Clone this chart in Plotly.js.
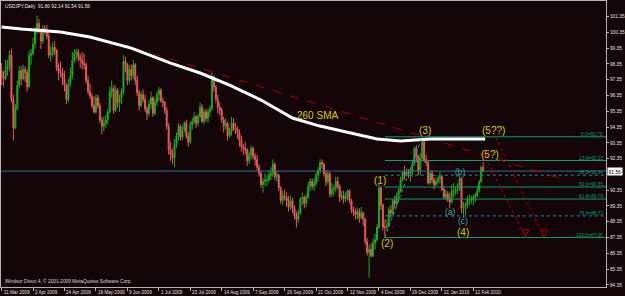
<!DOCTYPE html>
<html>
<head>
<meta charset="utf-8">
<script src="https://cdn.plot.ly/plotly-3.0.1.min.js"></script>
<style>html,body{margin:0;padding:0;background:#140508;}#chart{width:625px;height:296px;}</style>
</head>
<body>
<div id="chart"></div>
<script>
// ---- Data ----
const symbolTitle = "USDJPY,Daily  91.80 92.14 91.54 91.56";
const tickLabels = ["11 Mar 2009","2 Apr 2009","24 Apr 2009","18 May 2009","9 Jun 2009","1 Jul 2009","23 Jul 2009","14 Aug 2009","7 Sep 2009","29 Sep 2009","21 Oct 2009","12 Nov 2009","4 Dec 2009","29 Dec 2009","21 Jan 2010","12 Feb 2010"];
const priceTicks = [84.35,85.35,86.35,87.35,88.35,89.35,90.35,91.35,92.35,93.35,94.35,95.35,96.35,97.35,98.35,99.35,100.35,101.35];

const open = [
97.9,97.5,97.4,98.0,98.2,98.9,96.1,94.3,95.5,97.0,
97.9,97.4,98.0,97.8,96.9,98.9,99.0,99.6,100.4,100.9,
100.5,99.8,100.6,100.4,100.1,98.9,99.0,99.4,99.2,98.1,
97.8,97.8,97.4,97.0,96.1,97.1,97.6,98.6,99.0,99.1,
98.8,98.6,98.4,98.3,97.3,96.6,96.3,95.7,95.3,96.2,
95.7,94.8,94.4,94.6,94.8,95.3,96.6,96.8,95.4,96.7,
95.9,96.2,96.6,98.5,98.3,97.3,98.0,97.6,98.3,97.3,
96.5,95.7,96.4,96.1,95.5,95.2,95.8,96.2,95.2,95.9,
96.4,96.7,96.0,95.9,95.4,94.4,92.9,92.6,92.4,93.3,
93.8,94.4,93.7,94.2,94.6,93.8,93.4,94.5,94.7,95.0,
94.6,95.0,95.6,94.7,95.3,94.9,95.3,95.5,97.5,96.9,
96.1,95.6,95.4,94.8,94.4,94.6,93.8,94.1,94.6,94.3,
94.2,94.0,93.5,93.1,93.0,92.9,92.2,92.6,93.0,92.5,
92.3,91.8,91.4,90.7,90.9,91.0,91.0,91.3,91.4,92.0,
91.2,91.3,90.5,89.7,90.0,89.9,89.7,89.3,89.7,89.2,
88.7,88.5,88.9,89.8,89.9,89.5,89.9,90.6,90.9,90.6,
90.8,91.3,91.6,92.1,92.0,91.4,90.9,91.4,90.1,90.4,
90.5,90.9,90.6,89.9,90.0,89.8,89.9,90.3,89.7,89.1,
89.0,88.8,89.0,88.6,88.9,88.5,87.1,86.4,86.6,86.2,
87.0,87.2,88.0,90.5,89.4,88.0,88.0,88.1,89.1,88.9,
89.7,89.5,90.0,90.3,91.0,91.5,91.3,91.5,91.4,91.5,
92.0,93.0,92.5,91.6,92.4,93.4,92.3,92.1,90.8,91.4,
91.0,90.7,90.9,91.1,91.2,90.4,89.9,90.1,89.8,89.6,
90.3,90.3,90.4,90.4,91.1,89.2,89.3,89.4,89.8,89.8,
89.8,89.9,90.0,90.3,90.9,91.8];
const high = [
98.4,97.9,98.6,98.6,99.2,99.3,96.4,95.8,97.3,98.2,
98.2,98.3,98.2,98.0,99.2,99.3,100.0,100.7,101.4,101.2,
100.6,100.8,100.8,100.8,100.3,99.5,99.7,99.8,99.3,98.4,
98.5,98.1,97.9,97.1,97.4,98.1,99.1,99.3,99.3,99.3,
99.0,99.1,99.0,98.4,97.6,97.1,96.5,96.3,96.4,96.4,
95.9,95.0,95.0,95.1,95.5,96.9,97.3,97.0,97.0,96.8,
96.4,96.8,98.9,98.8,98.4,98.3,98.3,98.6,98.4,97.6,
96.7,96.6,96.7,96.4,95.7,96.1,96.6,96.3,96.2,96.6,
96.9,96.8,96.2,96.0,95.6,94.6,93.4,93.0,93.6,94.0,
94.6,94.5,94.4,94.7,94.8,94.0,94.7,94.9,95.3,95.1,
95.2,95.9,95.8,95.5,95.5,95.5,95.7,97.8,97.6,97.0,
96.4,95.9,95.6,95.0,94.9,94.7,94.3,95.0,94.9,94.6,
94.4,94.2,93.8,93.3,93.4,93.0,92.8,93.2,93.1,92.7,
92.6,92.0,91.6,91.1,91.4,91.3,91.6,91.8,92.3,92.1,
91.6,91.4,90.6,90.3,90.4,90.2,90.0,90.0,89.9,89.4,
89.0,89.1,89.9,90.2,90.0,90.1,90.9,91.1,91.1,91.1,
91.5,91.8,92.3,92.3,92.1,91.6,91.6,91.5,90.8,90.7,
91.2,91.2,90.7,90.3,90.3,90.2,90.4,90.4,89.8,89.3,
89.2,89.2,89.2,89.3,89.0,88.6,87.3,86.9,87.0,87.3,
87.6,88.2,90.8,90.6,89.5,88.5,88.5,89.3,89.4,89.8,
90.0,90.2,90.5,91.2,91.6,91.9,91.7,91.7,91.7,92.2,
93.1,93.2,92.6,92.7,93.73,93.5,92.6,92.2,91.6,91.6,
91.2,91.1,91.3,91.5,91.3,90.6,90.4,90.3,90.2,90.7,
90.8,90.6,90.8,91.3,91.2,89.6,89.6,90.0,90.1,90.0,
90.1,90.2,90.6,91.0,91.9,92.14];
const low = [
97.0,96.9,97.3,97.6,97.9,95.9,93.5,94.2,95.4,96.8,
97.0,97.3,97.2,96.6,96.8,98.3,98.9,99.3,100.2,100.3,
99.3,99.6,100.2,99.9,98.7,98.5,98.8,98.9,97.9,97.3,
97.5,97.0,96.6,95.8,95.9,96.9,97.4,98.4,98.6,98.5,
98.1,98.0,98.0,97.1,96.4,96.1,95.5,95.2,95.2,95.5,
94.6,93.9,94.1,94.3,94.5,95.2,96.2,95.2,95.3,95.6,
95.3,95.8,96.4,97.8,97.0,97.1,97.3,97.4,97.0,96.3,
95.4,95.6,95.9,95.3,94.8,95.0,95.5,95.0,95.1,95.7,
96.0,95.9,95.6,95.2,94.2,92.6,92.2,92.0,91.8,93.0,
93.5,93.5,93.5,94.0,93.6,93.1,93.3,94.2,94.5,94.3,
94.4,94.9,94.6,94.5,94.7,94.6,95.0,95.4,96.6,95.9,
95.2,95.1,94.6,94.0,94.2,93.5,93.7,93.8,94.1,93.9,
93.6,93.1,92.8,92.6,92.6,91.9,92.0,92.3,92.3,91.9,
91.6,91.2,90.5,90.2,90.6,90.6,90.8,91.0,91.2,91.0,
90.9,90.3,89.5,89.4,89.7,89.3,89.0,89.1,88.9,88.5,
88.0,88.3,88.8,89.4,89.2,89.3,89.8,90.3,90.4,90.3,
90.6,90.9,91.4,91.7,91.2,90.6,90.7,89.9,89.9,90.0,
90.2,90.4,89.6,89.7,89.5,89.6,89.7,89.5,88.9,88.7,
88.5,88.5,88.3,88.5,88.1,86.9,86.2,84.8,86.1,86.1,
86.6,87.1,87.9,89.1,87.8,87.36,87.8,88.0,88.6,88.8,
89.2,89.3,89.6,90.2,90.9,91.0,91.2,91.1,90.9,91.2,
91.9,92.1,91.3,91.3,92.2,92.1,91.9,90.7,90.7,90.8,
90.4,90.6,90.7,90.8,90.3,89.8,89.7,89.6,89.2,89.5,
89.9,90.0,90.1,90.3,88.9,88.6,88.8,89.2,89.4,89.5,
89.4,89.6,89.9,90.2,90.8,91.54];
const close = [
97.5,97.4,98.0,98.2,98.9,96.1,94.3,95.5,97.0,97.9,
97.4,98.0,97.8,96.9,98.9,99.0,99.6,100.4,100.9,100.5,
99.8,100.6,100.4,100.1,98.9,99.0,99.4,99.2,98.1,97.8,
97.8,97.4,97.0,96.1,97.1,97.6,98.6,99.0,99.1,98.8,
98.6,98.4,98.3,97.3,96.6,96.3,95.7,95.3,96.2,95.7,
94.8,94.4,94.6,94.8,95.3,96.6,96.8,95.4,96.7,95.9,
96.2,96.6,98.5,98.3,97.3,98.0,97.6,98.3,97.3,96.5,
95.7,96.4,96.1,95.5,95.2,95.8,96.2,95.2,95.9,96.4,
96.7,96.0,95.9,95.4,94.4,92.9,92.6,92.4,93.3,93.8,
94.4,93.7,94.2,94.6,93.8,93.4,94.5,94.7,95.0,94.6,
95.0,95.6,94.7,95.3,94.9,95.3,95.5,97.5,96.9,96.1,
95.6,95.4,94.8,94.4,94.6,93.8,94.1,94.6,94.3,94.2,
94.0,93.5,93.1,93.0,92.9,92.2,92.6,93.0,92.5,92.3,
91.8,91.4,90.7,90.9,91.0,91.0,91.3,91.4,92.0,91.2,
91.3,90.5,89.7,90.0,89.9,89.7,89.3,89.7,89.2,88.7,
88.5,88.9,89.8,89.9,89.5,89.9,90.6,90.9,90.6,90.8,
91.3,91.6,92.1,92.0,91.4,90.9,91.4,90.1,90.4,90.5,
90.9,90.6,89.9,90.0,89.8,89.9,90.3,89.7,89.1,89.0,
88.8,89.0,88.6,88.9,88.5,87.1,86.4,86.6,86.2,87.0,
87.2,88.0,90.5,89.4,88.0,88.0,88.1,89.1,88.9,89.7,
89.5,90.0,90.3,91.0,91.5,91.3,91.5,91.4,91.5,92.0,
93.0,92.5,91.6,92.4,93.4,92.3,92.1,90.8,91.4,91.0,
90.7,90.9,91.1,91.2,90.4,89.9,90.1,89.8,89.6,90.3,
90.3,90.4,90.4,91.1,89.2,89.3,89.4,89.8,89.8,89.8,
89.9,90.0,90.3,90.9,91.8,91.56];

// 260-day SMA read at sample bars
const smaIdx = [0,10,30,45,66,86,101,116,132,148,162,176,191,203,218,233,246];
const smaVal = [100.68,100.55,100.36,100.05,99.35,98.40,97.77,97.00,96.06,94.92,94.41,94.03,93.59,93.46,93.59,93.59,93.59];

// Fibonacci retracement (3)->(2)
const fibPct = ["0.0","23.6","38.2","50.0","61.8","78.6","100.0"];
const fibVal = [93.73,92.23,91.30,90.55,89.79,88.72,87.35];
const fibStartIdx = 195;

const bidPrice = 91.56;
// Trend line and wave lines (bar index, price)
const trendIdx = [68, 285];
const trendVal = [99.34, 91.06];
const waveIdx = [195, 214];
const waveVal = [87.36, 93.73];
const projAIdx = [250, 276];
const projAVal = [94.03, 87.39];
const projBIdx = [246, 266.5];
const projBVal = [92.45, 87.39];

// ---- Build ----
const n = close.length;
if (open.length !== n || high.length !== n || low.length !== n) throw new Error("length mismatch " + [open.length, high.length, low.length, n]);
const barIdx = close.map((_, i) => i);
const X_MAX = 307.5;

const BG = '#140508';
const FIB = '#0b9c78';
const YEL = '#dccb00';
const DR = '#b00000';

const traces = [];
traces.push({type:'scatter', mode:'lines', x:[-1, X_MAX+1], y:[bidPrice, bidPrice], line:{color:'#3a6c90', width:1}, hoverinfo:'skip'});
fibVal.forEach((v, k) => {
  const dotted = (fibPct[k] === "38.2" || fibPct[k] === "78.6");
  traces.push({type:'scatter', mode:'lines', x:[fibStartIdx, X_MAX+1], y:[v, v],
    line:{color: dotted ? '#1a8aa0' : FIB, width:1, dash: dotted ? 'dot' : 'solid'}, hoverinfo:'skip'});
});
traces.push({type:'scatter', mode:'lines', x:trendIdx, y:trendVal, line:{color:DR, width:1, dash:'dash'}, hoverinfo:'skip'});
traces.push({type:'candlestick', x:barIdx, open:open, high:high, low:low, close:close,
  whiskerwidth:0,
  increasing:{line:{color:'#1fa81f', width:1}, fillcolor:'#2cc42c'},
  decreasing:{line:{color:'#e45a5a', width:1}, fillcolor:'#f27070'},
  hoverinfo:'skip'});
traces.push({type:'scatter', mode:'lines', x:smaIdx, y:smaVal, line:{color:'#ffffff', width:3}, hoverinfo:'skip'});
traces.push({type:'scatter', mode:'lines', x:waveIdx, y:waveVal, line:{color:'#2aa0b4', width:1, dash:'dot'}, hoverinfo:'skip'});
traces.push({type:'scatter', mode:'lines', x:projAIdx, y:projAVal, line:{color:DR, width:1, dash:'dot'}, hoverinfo:'skip'});
traces.push({type:'scatter', mode:'lines', x:projBIdx, y:projBVal, line:{color:DR, width:1, dash:'dot'}, hoverinfo:'skip'});
traces.push({type:'scatter', mode:'markers', x:[projAIdx[1], projBIdx[1]], y:[projAVal[1], projBVal[1]],
  marker:{symbol:'arrow-down-open', size:7, color:DR, line:{color:DR, width:1}}, hoverinfo:'skip'});

const font = 'Liberation Sans, Arial, sans-serif';
const annotations = [];
annotations.push({xref:'paper', yref:'paper', x:0.004, y:1, xanchor:'left', yanchor:'top', yshift:-1, showarrow:false,
  text:symbolTitle, font:{family:font, size:4.8, color:'#e8e8e8'}});
annotations.push({xref:'paper', yref:'paper', x:0.004, y:0, xanchor:'left', yanchor:'bottom', yshift:1, showarrow:false,
  text:'Windsor Direct 4, © 2001-2009 MetaQuotes Software Corp.', font:{family:font, size:4.8, color:'#d8d8d8'}});
// date labels, left-aligned at their tick (MetaTrader style)
tickLabels.forEach((t, i) => annotations.push({xref:'x', yref:'paper', x:i*16, y:0, xanchor:'left', yanchor:'top',
  xshift:0, yshift:-1, showarrow:false, text:t, font:{family:font, size:4.6, color:'#e0e0e0'}}));
fibVal.forEach((v, k) => {
  annotations.push({xref:'paper', yref:'y', x:1, y:v, xanchor:'right', yanchor:'bottom', xshift:-1, yshift:-2, showarrow:false,
    text:fibPct[k] + '=' + v.toFixed(2), font:{family:font, size:4.8, color:FIB}});
});
annotations.push({xref:'paper', yref:'y', x:1, y:bidPrice, xanchor:'left', yanchor:'middle', xshift:1, showarrow:false,
  text:bidPrice.toFixed(2), bgcolor:'#ffffff', borderpad:0.5, font:{family:font, size:5, color:'#000000'}});
const waveLabels = [
  ['(1)', 192.5, 90.95, YEL, 10], ['(2)', 196.3, 86.95, YEL, 10], ['(3)', 215.2, 94.10, YEL, 10],
  ['(5??)', 250.3, 94.10, YEL, 10], ['(5?)', 248.7, 92.64, YEL, 10], ['(4)', 234.5, 87.64, YEL, 10],
  ['(b)', 233.5, 91.50, '#3aa6a6', 8.5], ['(a)', 228.4, 89.00, '#3aa6a6', 8.5], ['(c)', 234.5, 88.40, '#3aa6a6', 8.5],
  ['260 SMA', 160.7, 95.11, YEL, 10]
];
waveLabels.forEach(w => annotations.push({xref:'x', yref:'y', x:w[1], y:w[2], showarrow:false, text:w[0],
  font:{family:font, size:w[4], color:w[3]}}));

const layout = {
  width:625, height:296,
  margin:{l:1, r:19, t:1, b:9, pad:0},
  paper_bgcolor:BG, plot_bgcolor:BG,
  showlegend:false,
  xaxis:{range:[-0.3, X_MAX], tickvals:tickLabels.map((_, i) => i*16), showticklabels:false,
    ticks:'outside', ticklen:3, tickcolor:'#b4b4b4', tickwidth:1,
    showline:true, mirror:true, linecolor:'#b4b4b4', linewidth:1,
    showgrid:false, zeroline:false, rangeslider:{visible:false}, automargin:false, fixedrange:true},
  yaxis:{range:[84.22, 102.33], side:'right', tickvals:priceTicks,
    // the 91.35 label sits under the bid-price box in the reference
    ticktext:priceTicks.map(v => Math.abs(v - bidPrice) < 0.4 ? '' : v.toFixed(2)),
    ticks:'outside', ticklen:2, tickcolor:'#b4b4b4', tickwidth:1,
    tickfont:{family:font, size:4.8, color:'#e0e0e0'}, showline:true, mirror:true, linecolor:'#b4b4b4', linewidth:1,
    showgrid:false, zeroline:false, automargin:false, fixedrange:true},
  annotations:annotations
};
Plotly.newPlot('chart', traces, layout, {staticPlot:true, displayModeBar:false});
</script>
</body>
</html>
